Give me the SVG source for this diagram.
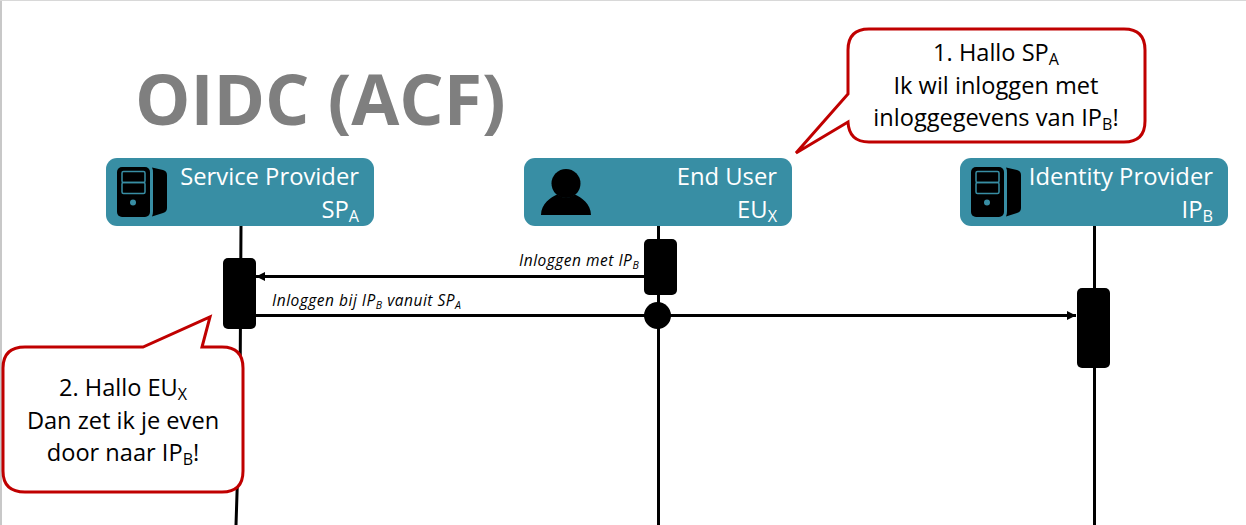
<svg xmlns="http://www.w3.org/2000/svg" width="1246" height="525" viewBox="0 0 1246 525">
<style>
text{font-family:"Open Sans","Noto Sans","DejaVu Sans",sans-serif}
.hd{fill:#388ea4;}
.nt{fill:#fff;font-size:23.800px;text-anchor:end}
.sub{font-size:.68em}
.ll{stroke:#000;stroke-width:3;fill:none}
.msg{stroke:#000;stroke-width:3;fill:none}
.act{fill:#000}
.lab{font-size:15.500px;font-style:italic;fill:#000;letter-spacing:.5px}
.bub{fill:#fff;stroke:#c00000;stroke-width:3}
.bt{font-size:23.600px;fill:#000;text-anchor:middle}
.ic{fill:#000}
.icl{fill:none;stroke:#388ea4;stroke-width:1.500}
</style>
<defs>
<marker id="arr" markerUnits="userSpaceOnUse" markerWidth="12" markerHeight="12" refX="10" refY="6" orient="auto"><path d="M1 1.500L10 6L1 10.500Z" fill="#000"/></marker>
<g id="srv">
<rect x="0" y="0" width="33" height="50" rx="5" class="ic"/>
<path d="M35 0.500L46 3Q50 4 50 8V41Q50 45 46 46L35 49.500Q36 48 36 44V6Q36 2 35 0.500Z" class="ic"/>
<rect x="5" y="4.500" width="23" height="11" rx="1.500" class="icl"/>
<rect x="5" y="15.500" width="23" height="11" rx="1.500" class="icl"/>
<circle cx="16" cy="35.500" r="3" fill="#388ea4"/>
</g>
</defs>
<rect x="0" y="0" width="1246" height="525" fill="#fff"/>
<path d="M1 0V525" stroke="#c8c8c8" stroke-width="2" fill="none"/>
<path d="M0 0.500H1246" stroke="#d8d8d8" stroke-width="1" fill="none"/>
<text id="title" x="135" y="125" font-size="69.700" font-weight="700" fill="#7f7f7f">OIDC (ACF)</text>
<g id="connectors">
<path class="ll" d="M241 226L240 400L236 525"/>
<path class="ll" d="M658.500 226V525"/>
<path class="ll" d="M1094.500 226V525"/>
<path class="msg" d="M644 276.500H256" marker-end="url(#arr)"/>
<path class="msg" d="M256 315.500H1076" marker-end="url(#arr)"/>
</g>
<g id="sp">
<rect class="hd" x="106" y="158" width="268" height="68" rx="11"/>
<use href="#srv" x="117" y="167"/>
<text class="nt" x="359" y="185">Service Provider</text>
<text class="nt" x="359" y="218">SP<tspan class="sub" dy="4">A</tspan></text>
</g>
<g id="eu">
<rect class="hd" x="524" y="158" width="268" height="68" rx="11"/>
<circle cx="566" cy="183.500" r="14.500" class="ic"/>
<path d="M541 215C541 204 551 197 557 194.500Q566 201 575 194.500C581 197 591 204 591 215Z" class="ic"/>
<text class="nt" x="777" y="185">End User</text>
<text class="nt" x="777" y="218">EU<tspan class="sub" dy="4">X</tspan></text>
</g>
<g id="ip">
<rect class="hd" x="960" y="158" width="268" height="68" rx="11"/>
<use href="#srv" x="971" y="167"/>
<text class="nt" x="1213" y="185">Identity Provider</text>
<text class="nt" x="1213" y="218">IP<tspan class="sub" dy="4">B</tspan></text>
</g>
<g id="act-sp"><rect class="act" x="223" y="258" width="33" height="71" rx="5"/></g>
<g id="act-eu"><rect class="act" x="644" y="239" width="33" height="56" rx="5"/></g>
<g id="dot-eu"><circle class="act" cx="657.500" cy="315.500" r="13.500"/></g>
<g id="act-ip"><rect class="act" x="1077" y="288" width="33" height="80" rx="5"/></g>
<g id="lab1"><text class="lab" x="519" y="265.500">Inloggen met IP<tspan class="sub" dy="3">B</tspan></text></g>
<g id="lab2"><text class="lab" x="272" y="305.500">Inloggen bij IP<tspan class="sub" dy="3">B</tspan><tspan dy="-3"> vanuit SP</tspan><tspan class="sub" dy="3">A</tspan></text></g>
<g id="bubble1">
<path class="bub" d="M869 29H1124Q1145 29 1145 50V121Q1145 142 1124 142H869Q849 142 848 122L796 153L848 94V50Q848 29 869 29Z"/>
<text class="bt" x="996" y="61">1. Hallo SP<tspan class="sub" dy="4">A</tspan></text>
<text class="bt" x="996" y="94">Ik wil inloggen met</text>
<text class="bt" x="996" y="126">inloggegevens van IP<tspan class="sub" dy="4">B</tspan><tspan dy="-4">!</tspan></text>
</g>
<g id="bubble2">
<path class="bub" d="M25 347H143L210 317L202 347H222Q243 347 243 368V471Q243 492 222 492H25Q3 492 3 471V368Q3 347 25 347Z"/>
<text class="bt" x="123" y="396">2. Hallo EU<tspan class="sub" dy="4">X</tspan></text>
<text class="bt" x="123" y="429">Dan zet ik je even</text>
<text class="bt" x="123" y="461">door naar IP<tspan class="sub" dy="4">B</tspan><tspan dy="-4">!</tspan></text>
</g>
</svg>
